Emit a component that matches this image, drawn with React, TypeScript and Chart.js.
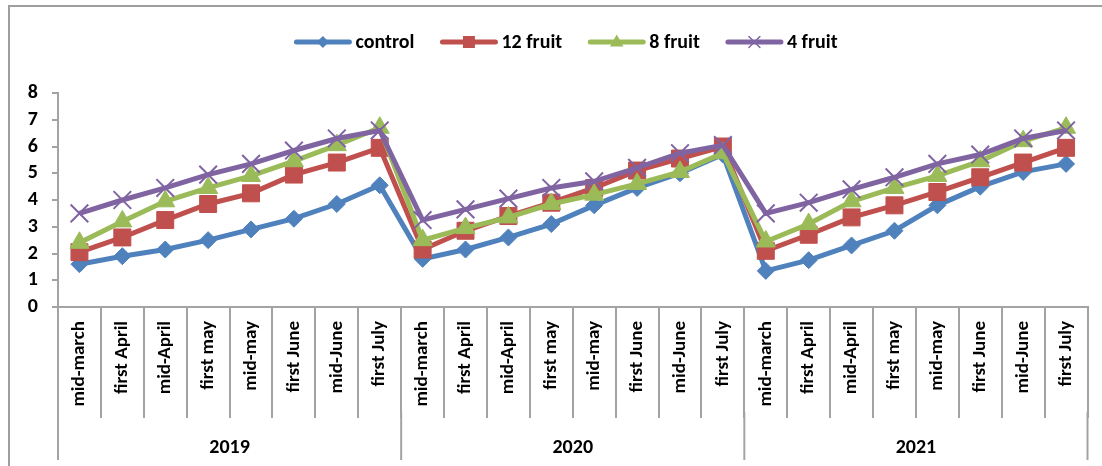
import React, { useEffect, useRef } from 'react';
import { Chart, registerables } from 'chart.js';

Chart.register(...registerables);

const months = ['mid-march', 'first April', 'mid-April', 'first may', 'mid-may', 'first June', 'mid-June', 'first July'];
const years = ['2019', '2020', '2021'];
const categories = [...months, ...months, ...months];

const control = [1.6, 1.9, 2.15, 2.5, 2.9, 3.3, 3.85, 4.55, 1.8, 2.15, 2.6, 3.1, 3.8, 4.45, 5.0, 5.7, 1.35, 1.75, 2.3, 2.85, 3.8, 4.5, 5.05, 5.35];
const fruit12 = [2.05, 2.6, 3.25, 3.85, 4.25, 4.95, 5.4, 5.95, 2.15, 2.85, 3.4, 3.9, 4.45, 5.1, 5.55, 6.0, 2.1, 2.7, 3.35, 3.8, 4.3, 4.85, 5.4, 5.95];
const fruit8 = [2.4, 3.2, 3.95, 4.45, 4.9, 5.45, 6.05, 6.7, 2.5, 2.95, 3.35, 3.85, 4.2, 4.6, 5.05, 5.75, 2.45, 3.1, 3.95, 4.45, 4.9, 5.45, 6.2, 6.7];
const fruit4 = [3.5, 4.0, 4.45, 4.95, 5.35, 5.85, 6.3, 6.6, 3.25, 3.65, 4.05, 4.45, 4.7, 5.2, 5.75, 6.05, 3.5, 3.9, 4.4, 4.85, 5.35, 5.7, 6.3, 6.6];

const seriesNames = ['control', '12 fruit', '8 fruit', '4 fruit'];
const seriesColors = ['#4F81BD', '#C0504D', '#9BBB59', '#8064A2'];
const seriesStyles = ['rectRot', 'rect', 'triangle', 'crossRot'];

const FONT = 'Carlito, Lato, "Liberation Sans", sans-serif';
const GRAY = '#A3A3A3';

function drawMarker(ctx: CanvasRenderingContext2D, style: string, x: number, y: number, r: number, color: string) {
  ctx.save();
  ctx.fillStyle = color;
  ctx.strokeStyle = color;
  ctx.beginPath();
  if (style === 'rectRot') {
    ctx.moveTo(x, y - r);
    ctx.lineTo(x + r, y);
    ctx.lineTo(x, y + r);
    ctx.lineTo(x - r, y);
    ctx.closePath();
    ctx.fill();
  } else if (style === 'rect') {
    ctx.rect(x - r, y - r, 2 * r, 2 * r);
    ctx.fill();
  } else if (style === 'triangle') {
    ctx.moveTo(x, y - r);
    ctx.lineTo(x + r * 0.9, y + r * 0.6);
    ctx.lineTo(x - r * 0.9, y + r * 0.6);
    ctx.closePath();
    ctx.fill();
  } else {
    ctx.lineWidth = 1.5;
    ctx.moveTo(x - r, y - r);
    ctx.lineTo(x + r, y + r);
    ctx.moveTo(x + r, y - r);
    ctx.lineTo(x - r, y + r);
    ctx.stroke();
  }
  ctx.restore();
}

export default function App() {
  const ref = useRef<HTMLCanvasElement>(null);

  useEffect(() => {
    document.body.style.margin = '0';
    const canvas = ref.current;
    if (!canvas) return;

    const values = [control, fruit12, fruit8, fruit4];
    const radii = [8.5, 12, 11, 12.5];
    const datasets = values.map((v, i) => ({
      label: seriesNames[i],
      data: v,
      borderColor: seriesColors[i],
      backgroundColor: seriesColors[i],
      borderWidth: 5,
      pointStyle: seriesStyles[i],
      pointRadius: radii[i],
      pointBorderWidth: i === 3 ? 2 : 1,
      pointBackgroundColor: seriesColors[i],
      pointBorderColor: seriesColors[i],
      tension: 0,
      order: 4 - i,
    }));

    const decor = {
      id: 'decor',
      beforeDraw(chart: any) {
        const ctx = chart.ctx as CanvasRenderingContext2D;
        ctx.save();
        ctx.strokeStyle = '#9E9E9E';
        ctx.lineWidth = 2;
        ctx.beginPath();
        ctx.moveTo(1102, 6);
        ctx.lineTo(9, 6);
        ctx.lineTo(9, 466);
        ctx.stroke();
        ctx.restore();
      },
      afterDraw(chart: any) {
        const ctx = chart.ctx as CanvasRenderingContext2D;
        const xs = chart.scales.x;
        const half = (xs.getPixelForValue(1) - xs.getPixelForValue(0)) / 2;
        const axisY = chart.chartArea.bottom;
        // year separators extending below category ticks
        ctx.save();
        ctx.strokeStyle = GRAY;
        ctx.lineWidth = 2;
        for (let g = 0; g <= years.length; g++) {
          const idx = g * months.length;
          const bx = idx < categories.length ? xs.getPixelForValue(idx) - half : xs.getPixelForValue(categories.length - 1) + half;
          ctx.beginPath();
          ctx.moveTo(bx, axisY + 105);
          ctx.lineTo(bx, axisY + 153);
          ctx.stroke();
        }
        // year labels
        ctx.fillStyle = '#000';
        ctx.font = `bold 20px ${FONT}`;
        ctx.textAlign = 'center';
        ctx.textBaseline = 'middle';
        years.forEach((yr, g) => {
          const a = xs.getPixelForValue(g * months.length) - half;
          const b = xs.getPixelForValue(g * months.length + months.length - 1) + half;
          ctx.fillText(yr, (a + b) / 2, axisY + 141);
        });
        // legend
        ctx.font = `bold 20px ${FONT}`;
        ctx.textAlign = 'left';
        const lineLen = 57;
        const gap = 4;
        const spacing = 26;
        const widths = seriesNames.map((n) => ctx.measureText(n).width);
        const total = widths.reduce((s, w) => s + lineLen + gap + w, 0) + spacing * (seriesNames.length - 1);
        let x = 566 - total / 2;
        const ly = 42;
        const mr = [6, 6, 7.5, 5.5];
        seriesNames.forEach((n, i) => {
          ctx.strokeStyle = seriesColors[i];
          ctx.lineWidth = 5;
          ctx.lineCap = 'round';
          ctx.beginPath();
          ctx.moveTo(x + 2, ly);
          ctx.lineTo(x + lineLen - 2, ly);
          ctx.stroke();
          drawMarker(ctx, seriesStyles[i], x + lineLen / 2, ly, mr[i], seriesColors[i]);
          ctx.fillStyle = '#000';
          ctx.fillText(n, x + lineLen + gap, ly + 1);
          x += lineLen + gap + widths[i] + spacing;
        });
        ctx.restore();
      },
    };

    const chart = new Chart(canvas, {
      type: 'line',
      data: { labels: categories, datasets: datasets as any },
      options: {
        responsive: false,
        animation: false,
        devicePixelRatio: 1,
        layout: { padding: { top: 93, right: 14, bottom: 0, left: 0 } },
        plugins: { legend: { display: false }, tooltip: { enabled: false } },
        scales: {
          x: {
            type: 'category',
            offset: true,
            grid: { offset: true, drawOnChartArea: false, tickLength: 111, color: GRAY, lineWidth: 2 },
            border: { color: GRAY, width: 2 },
            ticks: {
              autoSkip: false,
              minRotation: 90,
              maxRotation: 90,
              padding: -97,
              color: '#000',
              font: { family: FONT, size: 19, weight: 'bold' },
            },
            afterFit: (s: any) => {
              s.height = 159;
            },
          },
          y: {
            min: 0,
            max: 8,
            ticks: {
              stepSize: 1,
              autoSkip: false,
              padding: 14,
              color: '#000',
              font: { family: FONT, size: 20, weight: 'bold' },
            },
            grid: { drawOnChartArea: false, tickLength: 6, color: GRAY, lineWidth: 2 },
            border: { color: GRAY, width: 2 },
            afterFit: (s: any) => {
              s.width = 58;
            },
          },
        },
      } as any,
      plugins: [decor],
    });

    return () => chart.destroy();
  }, []);

  return <canvas ref={ref} width={1102} height={466} style={{ display: 'block' }} />;
}
